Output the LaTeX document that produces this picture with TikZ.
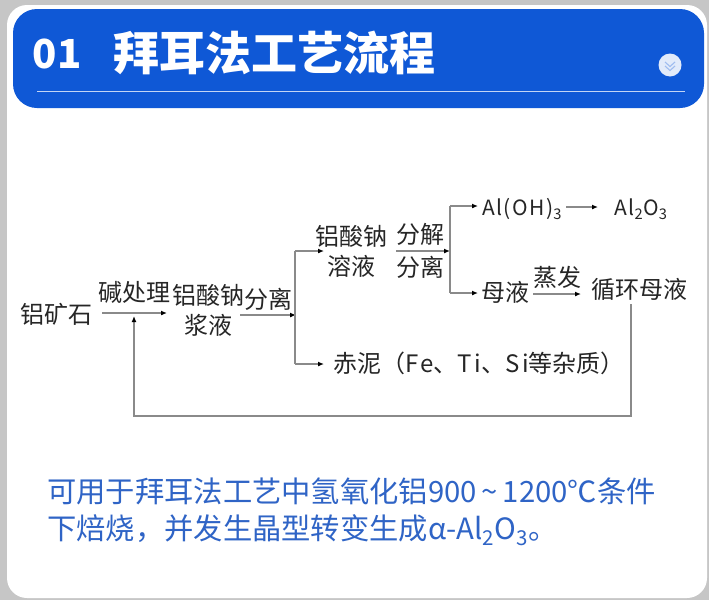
\documentclass[tikz,border=0pt]{standalone}
\usepackage{fontspec}
\setmainfont{Noto Sans CJK SC}
\usetikzlibrary{arrows.meta}
\definecolor{headblue}{HTML}{0F58D6}
\definecolor{noteblue}{HTML}{2F64C6}
\definecolor{framegray}{HTML}{C6C6C6}
\definecolor{flowgray}{HTML}{8A8A8A}
\newcommand{\widelatin}[1]{{\addfontfeature{LetterSpace=10}#1}}
\tikzset{
	flowtext/.style={inner sep=0pt,font=\fontsize{24}{24}\selectfont,text=black!85},
	latintext/.style={inner sep=0pt,font=\fontsize{21}{21}\selectfont\addfontfeature{LetterSpace=7},text=black!85},
	notetext/.style={inner sep=0pt,anchor=west,font=\fontsize{29.3}{29.3}\selectfont,text=noteblue},
	flowline/.style={draw=flowgray,line width=1.2pt},
	flowarrow/.style={flowline,-{Latex[length=6pt,width=5pt,black]}},
}
\begin{document}
\begin{tikzpicture}[x=1pt,y=-1pt]
		\useasboundingbox (0,0) rectangle (709,600);
		\fill[framegray] (0,0) rectangle (709,600);
		\fill[white,rounded corners=20pt] (7,5) rectangle (707,598);
		\fill[headblue,rounded corners=24pt] (13,9) rectangle (704,108);
		\draw[white!75!headblue,line width=0.8pt] (37,91) -- (685,91);
		
		\node[inner sep=0pt,text=white,font=\fontsize{40}{40}\selectfont\bfseries] (num) at (57,54) {01};
		\node[inner sep=0pt,text=white,font=\fontsize{46}{46}\selectfont\bfseries] (title) at (274,53) {拜耳法工艺流程};
		\node[circle,fill=white!88!headblue,minimum size=23pt,inner sep=0pt] (fold) at (670,65) {};
		\draw[white!60!headblue,line width=1.1pt] (665,62) -- (670,66.5) -- (675,62) (665,66) -- (670,70.5) -- (675,66);
		
		%flow text
		\node[flowtext] (ore) at (56,314) {铝矿石};
		\node[flowtext] (alkali) at (134,292) {碱处理};
		\node[flowtext] (slurry) at (208,295) {铝酸钠};
		\node[flowtext] (slurrytwo) at (208,325) {浆液};
		\node[flowtext] (sepone) at (268,299) {分离};
		\node[flowtext] (solution) at (351,236) {铝酸钠};
		\node[flowtext] (solutiontwo) at (351,266) {溶液};
		\node[flowtext] (decomp) at (420,234) {分解};
		\node[flowtext] (septwo) at (420,267) {分离};
		\node[latintext] (hydroxide) at (522,209) {Al(OH)\textsubscript{3}};
		\node[latintext] (alumina) at (641,209) {Al\textsubscript{2}O\textsubscript{3}};
		\node[flowtext] (liquor) at (505,292) {母液};
		\node[flowtext] (evap) at (557,277) {蒸发};
		\node[flowtext] (recycle) at (639,289) {循环母液};
		\node[flowtext] (mud) at (479,363) {赤泥（\widelatin{Fe}、\widelatin{Ti}、\widelatin{Si}等杂质）};
		
		%junction points
		\coordinate (oreout) at (102,313);
		\coordinate (orein) at (167,313);
		\coordinate (slurryout) at (240,315);
		\coordinate (fork) at (296,315);
		\coordinate (forkup) at (295,251);
		\coordinate (forkdown) at (295,364);
		\coordinate (solin) at (324,251);
		\coordinate (mudin) at (324,364);
		\coordinate (solout) at (396,251);
		\coordinate (forktwo) at (450,251);
		\coordinate (forktwoup) at (450,206);
		\coordinate (forktwodown) at (450,293);
		\coordinate (hydin) at (478,206);
		\coordinate (liqin) at (478,293);
		\coordinate (hydout) at (566,207);
		\coordinate (aluin) at (598,207);
		\coordinate (liqout) at (533,294);
		\coordinate (recin) at (581,294);
		\coordinate (recout) at (631,304);
		\coordinate (backright) at (631,416);
		\coordinate (backleft) at (134,416);
		\coordinate (backin) at (134,316);
		
		\draw[flowarrow] (oreout) -- (orein);
		\draw[flowarrow] (slurryout) -- (fork);
		\draw[flowline,line join=round] (forkup) -- (forkdown);
		\draw[flowarrow] (forkup) -- (solin);
		\draw[flowarrow] (forkdown) -- (mudin);
		\draw[flowarrow] (solout) -- (forktwo);
		\draw[flowline] (forktwoup) -- (forktwodown);
		\draw[flowarrow] (forktwoup) -- (hydin);
		\draw[flowarrow] (forktwodown) -- (liqin);
		\draw[flowarrow] (hydout) -- (aluin);
		\draw[flowarrow] (liqout) -- (recin);
		\draw[flowarrow] (recout) -- (backright) -- (backleft) -- (backin);
		
		\node[notetext] (noteone) at (47,491) {可用于拜耳法工艺中氢氧化铝900\,\textasciitilde\,1200℃条件};
		\node[notetext] (notetwo) at (47,530) {下焙烧，并发生晶型转变生成α-Al\textsubscript{2}O\textsubscript{3}。};
\end{tikzpicture}
\end{document}
